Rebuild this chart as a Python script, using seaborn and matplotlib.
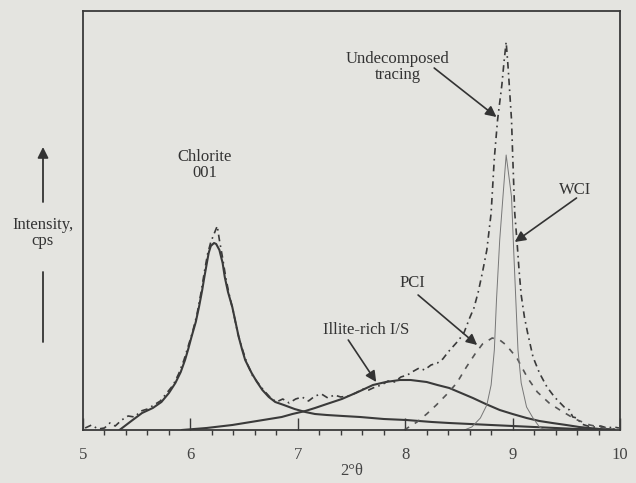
import matplotlib
matplotlib.use("Agg")
import matplotlib.pyplot as plt
import seaborn as sns
import pandas as pd
from matplotlib.ticker import MultipleLocator
from matplotlib.lines import Line2D

# ---------------- data (2-theta, intensity) ----------------
trace_x = [5.02, 5.08, 5.14, 5.20, 5.25, 5.30, 5.36, 5.42, 5.48, 5.54, 5.60, 5.66, 5.72, 5.78,
           5.84, 5.89, 5.94, 5.98, 6.02, 6.06, 6.10, 6.13, 6.16, 6.19, 6.22, 6.25, 6.27, 6.30,
           6.33, 6.36, 6.40, 6.44, 6.48, 6.53, 6.58, 6.63, 6.68, 6.74, 6.80, 6.86, 6.92, 6.98,
           7.04, 7.10, 7.16, 7.22, 7.28, 7.34, 7.40, 7.47, 7.54, 7.60, 7.66, 7.72, 7.78, 7.84,
           7.90, 7.96, 8.02, 8.08, 8.13, 8.18, 8.24, 8.30, 8.35, 8.40, 8.45, 8.50, 8.55, 8.60,
           8.64, 8.68, 8.72, 8.76, 8.80, 8.83, 8.86, 8.90, 8.92, 8.94, 8.96, 8.97, 8.99, 9.00,
           9.02, 9.04, 9.06, 9.08, 9.11, 9.14, 9.19, 9.25, 9.32, 9.39, 9.48, 9.53, 9.56, 9.60,
           9.64, 9.70, 9.76, 9.82, 9.88, 9.94, 9.99]
trace_y = [2, 5, 1, 2, 7, 4, 10, 14, 13, 19, 21, 25, 29, 37,
           45, 56, 70, 84, 98, 115, 138, 158, 176, 188, 196, 204, 190, 172,
           152, 136, 118, 97, 82, 66, 54, 47, 40, 33, 28, 31, 27, 31,
           33, 29, 34, 36, 32, 35, 33, 34, 37, 41, 40, 43, 45, 49,
           48, 53, 55, 59, 62, 60, 65, 67, 71, 78, 84, 90, 98, 112,
           122, 138, 158, 180, 217, 272, 310, 345, 368, 388, 360, 343, 310, 277,
           217, 190, 160, 135, 113, 97, 73, 57, 43, 33, 23, 20, 13, 12,
           6, 4, 3, 4, 2, 3, 2]

chlorite_x = [5.34, 5.45, 5.55, 5.65, 5.73, 5.80, 5.86, 5.91, 5.95, 5.98, 6.01, 6.05, 6.08,
              6.11, 6.13, 6.15, 6.17, 6.19, 6.22, 6.24, 6.27, 6.30, 6.32, 6.35, 6.39, 6.42,
              6.45, 6.48, 6.51, 6.57, 6.62, 6.67, 6.73, 6.79, 6.87, 6.97, 7.07, 7.16, 7.27,
              7.42, 7.58, 7.80, 8.01, 8.25, 8.41, 8.80, 9.20, 9.60, 9.90]
chlorite_y = [0, 9, 17, 22, 28, 37, 47, 58, 70, 81, 93, 108, 123,
              140, 153, 165, 177, 184, 187, 186, 180, 167, 153, 138, 123, 108,
              93, 81, 70, 57, 48, 40, 33, 28, 25, 21, 18, 16, 15,
              14, 13, 11, 10, 8, 7, 5, 3, 1, 0.5]

illite_x = [5.92, 6.15, 6.39, 6.62, 6.85, 6.95, 7.07, 7.16, 7.27, 7.41, 7.56, 7.70, 7.82,
            7.95, 8.05, 8.20, 8.30, 8.41, 8.52, 8.63, 8.75, 8.88, 9.00, 9.13, 9.25, 9.37,
            9.50, 9.62, 9.81, 9.95]
illite_y = [0, 2, 5, 9, 13, 16, 19, 22, 26, 31, 38, 45, 48,
            50, 50, 48, 45, 42, 37, 32, 26, 20, 16, 12, 9, 7,
            5, 3, 1, 0.5]

pci_x = [7.99, 8.11, 8.20, 8.29, 8.39, 8.48, 8.57, 8.65, 8.72, 8.81, 8.88, 8.94, 9.04,
         9.14, 9.23, 9.34, 9.44, 9.58, 9.72, 9.85, 9.95]
pci_y = [0, 8, 16, 25, 36, 47, 63, 76, 86, 92, 90, 85, 72,
         52, 38, 27, 20, 11, 5, 2, 1]

wci_x = [8.55, 8.62, 8.70, 8.76, 8.80, 8.83, 8.85, 8.88, 8.91, 8.94, 8.97, 8.99, 9.01,
         9.03, 9.05, 9.08, 9.13, 9.19, 9.25, 9.30]
wci_y = [0, 3, 12, 25, 45, 80, 130, 190, 233, 275, 250, 233, 180,
         130, 80, 47, 23, 12, 3, 0]

xtick_vals = [5, 6, 7, 8, 9, 10]
xtick_labels = ["5", "6", "7", "8", "9", "10"]

# ---------------- styling ----------------
BG = "#e4e4e0"
INK = "#3a3a3a"
sns.set_theme(style="white")
plt.rcParams["font.family"] = ["Liberation Serif", "DejaVu Serif"]
plt.rcParams["figure.facecolor"] = BG
plt.rcParams["axes.facecolor"] = BG

fig = plt.figure(figsize=(6.36, 4.83), dpi=100)
ax = fig.add_axes([83 / 636, 1 - 430 / 483, (620 - 83) / 636, (430 - 11) / 483])

def draw(xs, ys, **kw):
    df = pd.DataFrame({"x": xs, "y": ys})
    sns.lineplot(data=df, x="x", y="y", ax=ax, sort=False, estimator=None, **kw)

draw(trace_x, trace_y, color=INK, lw=1.2, linestyle=(0, (4, 2.5, 1, 2.5)))
draw(chlorite_x, chlorite_y, color=INK, lw=1.5)
draw(illite_x, illite_y, color=INK, lw=1.5)
draw(pci_x, pci_y, color="#555555", lw=1.2, linestyle=(0, (3.5, 4)))
draw(wci_x, wci_y, color="#777777", lw=0.7)

ax.set_xlim(5, 10)
ax.set_ylim(0, 419)
ax.set_yticks([])
ax.set_xticks(xtick_vals)
ax.set_xticklabels(xtick_labels)
ax.xaxis.set_minor_locator(MultipleLocator(0.2))
ax.tick_params(axis="x", which="both", bottom=True, top=False)
ax.tick_params(axis="x", which="major", direction="in", length=8.6, width=1.0,
               color=INK, pad=12, labelsize=12, labelcolor="#444444")
ax.tick_params(axis="x", which="minor", direction="out", length=3.6, width=1.0, color=INK)
ax.set_xlabel("2°θ", fontsize=12, color="#444444", labelpad=0)
ax.set_ylabel("")
for s in ax.spines.values():
    s.set_color(INK)
    s.set_linewidth(1.3)

tk = dict(fontsize=12, color="#333333", ha="center", va="center", linespacing=1.0)
ax.text(6.13, 265, "Chlorite\n001", **tk)
ax.text(7.64, 100, "Illite-rich I/S", **tk)
ax.text(8.07, 147, "PCI", **tk)
ax.text(9.58, 240, "WCI", **tk)
ax.text(7.93, 363, "Undecomposed\ntracing", **tk)

ap = dict(arrowstyle="-|>", color="#333333", lw=1.2, mutation_scale=16,
          shrinkA=0, shrinkB=0)
ax.annotate("", xy=(8.85, 313), xytext=(8.27, 362), arrowprops=ap)
ax.annotate("", xy=(9.02, 188), xytext=(9.595, 232), arrowprops=ap)
ax.annotate("", xy=(8.67, 85), xytext=(8.12, 135), arrowprops=ap)
ax.annotate("", xy=(7.73, 48), xytext=(7.47, 90), arrowprops=ap)

# y-axis label with arrow
fig.text(43 / 636, 1 - 233 / 483, "Intensity,\ncps", fontsize=12, color="#333333",
         ha="center", va="center", linespacing=1.0)
fig.add_artist(matplotlib.patches.FancyArrowPatch(
    (43 / 636, 1 - 202 / 483), (43 / 636, 1 - 147 / 483), transform=fig.transFigure,
    arrowstyle="-|>", mutation_scale=16, color="#333333", lw=1.3, shrinkA=0, shrinkB=0))
fig.add_artist(Line2D([43 / 636, 43 / 636], [1 - 272 / 483, 1 - 342 / 483],
                      transform=fig.transFigure, color="#333333", lw=1.3))

fig.savefig("out.png", dpi=100, facecolor=BG)
